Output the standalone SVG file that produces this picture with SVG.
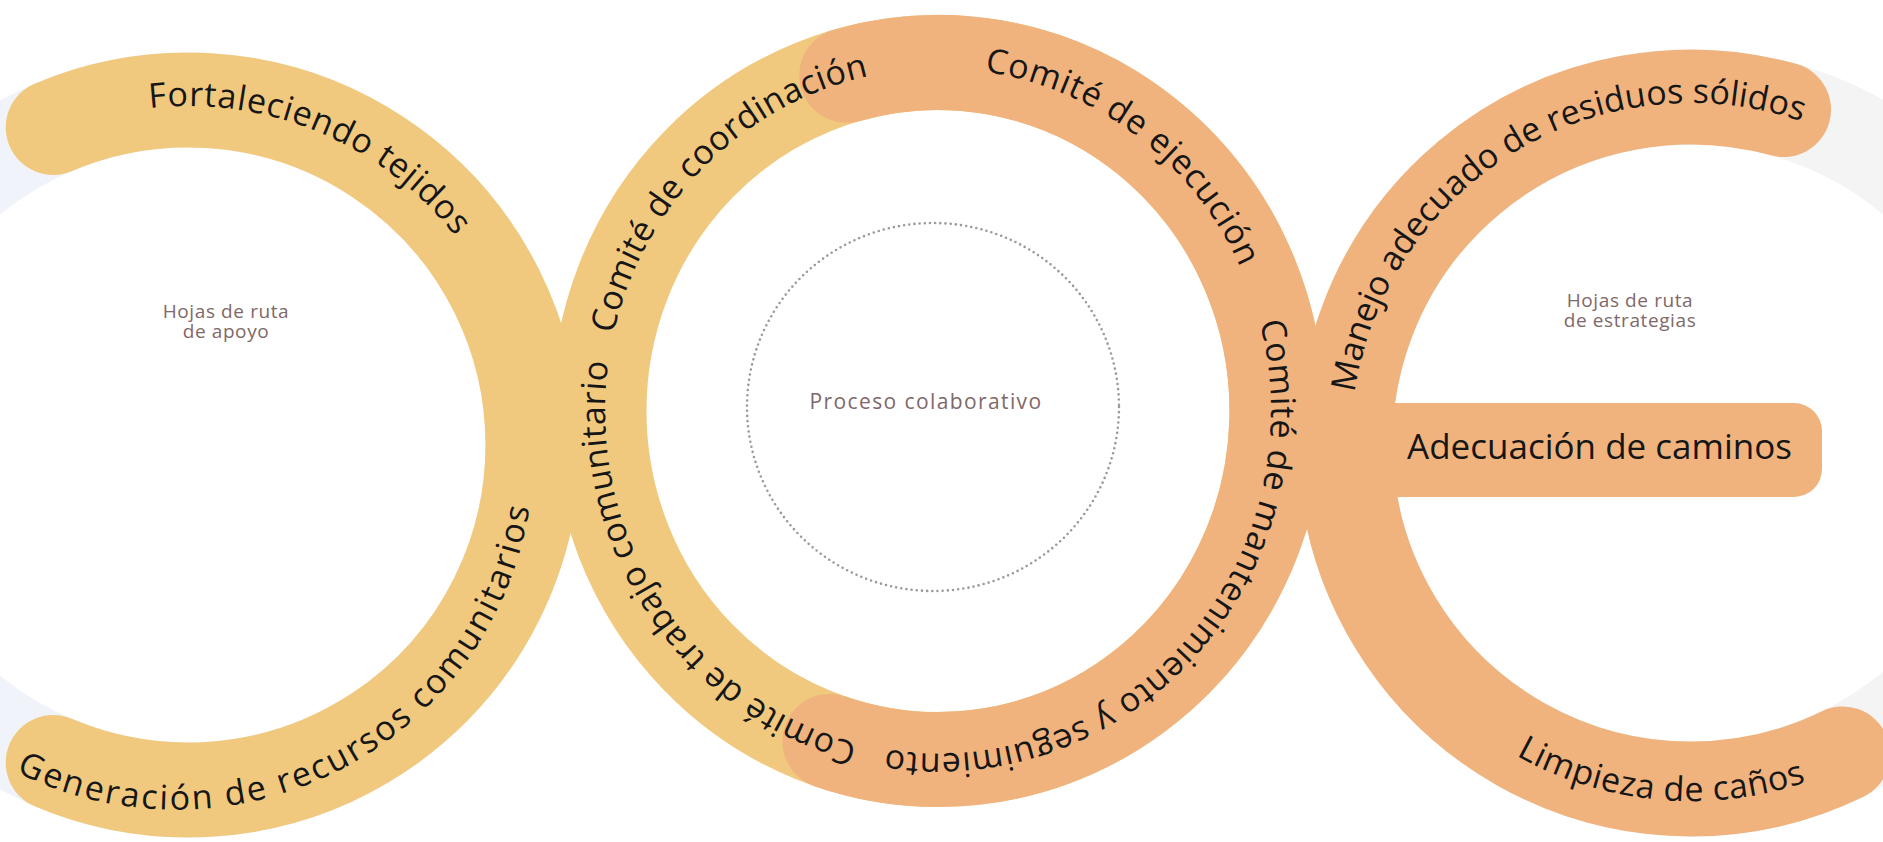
<svg xmlns="http://www.w3.org/2000/svg" xmlns:xlink="http://www.w3.org/1999/xlink" width="1883" height="842" viewBox="0 0 1883 842">
<style>
.band{fill:none;stroke-width:95;stroke-linecap:round}
.yel{stroke:#F1C97E}
.ora{stroke:#F0B37D}
.ghostL{fill:none;stroke:#F0F4FA;stroke-width:95}
.ghostR{fill:none;stroke:#F4F4F4;stroke-width:95}
.lbl{font-family:"Open Sans","Liberation Sans",sans-serif;font-size:34px;fill:#161616}
.soft{font-family:"Open Sans","Liberation Sans",sans-serif;font-size:19px;fill:#7f6868;letter-spacing:0.6px;text-anchor:middle}
</style>
<defs>
<path id="pT1" d="M149.6,108.2 A339,339 0 0 1 455.1,236.3"/>
<path id="pT2" d="M16,772 A358,358 0 0 0 530,505"/>
<path id="pT3" d="M613.5,333.9 A333,342.5 0 0 1 868.8,76.0"/>
<path id="pT4" d="M984.4,71.8 A333,342.5 0 0 1 1239.8,266.3"/>
<path id="pT5" d="M1259.6,322.4 A333,342.5 0 0 1 885.9,749.3"/>
<path id="pT6" d="M857.4,743.3 A333,342.5 0 0 1 608.7,360.4"/>
<path id="pT7" d="M1354.7,392.7 A340,340 0 0 1 1801.7,121.5"/>
<path id="pT9" d="M1516.0,755.5 A358,358 0 0 0 1807.6,781.5"/>
</defs>
<rect width="1883" height="842" fill="#FFFFFF"/>
<g id="ghost-rings">
<circle class="ghostL" cx="188" cy="445" r="345"/>
<circle class="ghostR" cx="1691" cy="443" r="346"/>
</g>
<g id="left-arc">
<path class="band yel" d="M53.2,127.4 A345,345 0 1 1 53.2,762.6"/>
<text class="lbl"><textPath href="#pT1" xlink:href="#pT1" textLength="346" lengthAdjust="spacing">Fortaleciendo tejidos</textPath></text>
<text class="lbl"><textPath href="#pT2" xlink:href="#pT2" textLength="672" lengthAdjust="spacing">Generación de recursos comunitarios</textPath></text>
<text class="soft" x="226" y="318">Hojas de ruta</text>
<text class="soft" x="226" y="338">de apoyo</text>
</g>
<g id="ring">
<ellipse class="band yel" cx="938" cy="411" rx="339" ry="348.5"/>
<path class="band ora" d="M846.8,75.3 A339,348.5 0 1 1 829.9,741.3"/>
<text class="lbl"><textPath href="#pT3" xlink:href="#pT3" textLength="383" lengthAdjust="spacing">Comité de coordinación</textPath></text>
<text class="lbl"><textPath href="#pT4" xlink:href="#pT4" textLength="336" lengthAdjust="spacing">Comité de ejecución</textPath></text>
<text class="lbl"><textPath href="#pT5" xlink:href="#pT5" textLength="672" lengthAdjust="spacing">Comité de mantenimiento y seguimiento</textPath></text>
<text class="lbl"><textPath href="#pT6" xlink:href="#pT6" textLength="498" lengthAdjust="spacing">Comité de trabajo comunitario</textPath></text>
</g>
<g id="center">
<ellipse cx="933" cy="407" rx="186" ry="184" fill="none" stroke="#9A9A9A" stroke-width="2.6" stroke-linecap="round" stroke-dasharray="0 5.2"/>
<text class="soft" x="926" y="409" style="font-size:21px;letter-spacing:1.4px">Proceso colaborativo</text>
</g>
<g id="right-arc">
<path class="band ora" d="M1783.5,109.6 A346,346 0 1 0 1842.7,754.0"/>
<rect x="1340" y="403" width="482" height="94" rx="28" fill="#F0B37D"/>
<text class="lbl"><textPath href="#pT7" xlink:href="#pT7" textLength="596" lengthAdjust="spacing">Manejo adecuado de residuos sólidos</textPath></text>
<text class="lbl" x="1407" y="459" style="font-size:35px" textLength="385" lengthAdjust="spacing">Adecuación de caminos</text>
<text class="lbl"><textPath href="#pT9" xlink:href="#pT9" textLength="300" lengthAdjust="spacing">Limpieza de caños</textPath></text>
<text class="soft" x="1630" y="307">Hojas de ruta</text>
<text class="soft" x="1630" y="327">de estrategias</text>
</g>
</svg>
